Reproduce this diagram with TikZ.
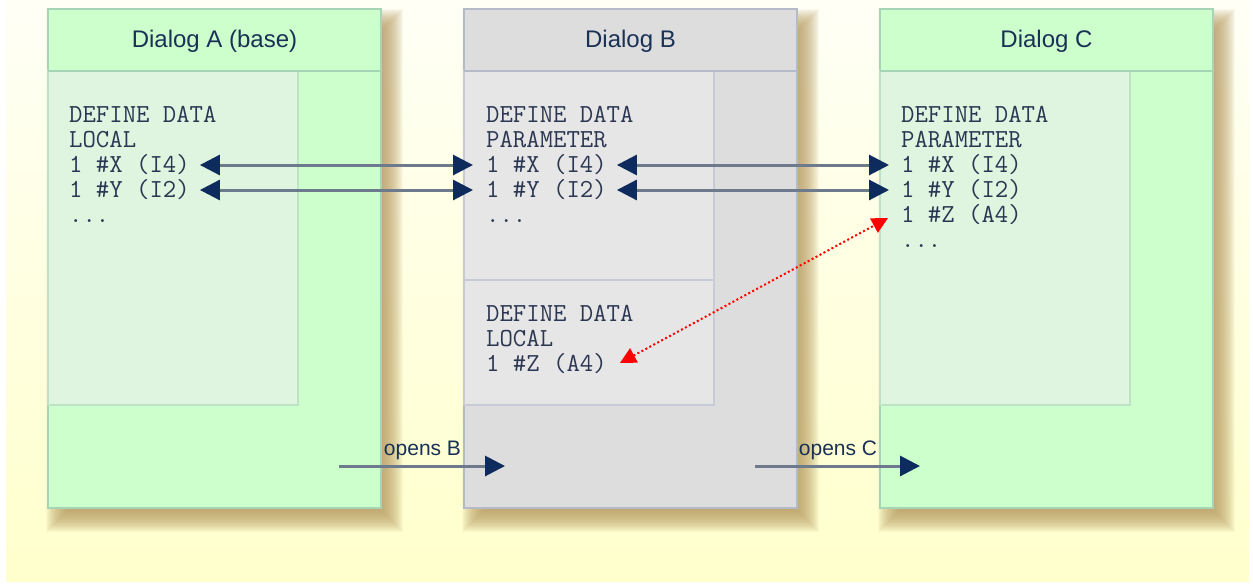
\documentclass[tikz,border=0pt]{standalone}
\usepackage{fontspec}
\setmainfont{Liberation Sans}
\usetikzlibrary{arrows.meta}
\definecolor{bgtop}{HTML}{FFFFF6}
\definecolor{bgbot}{HTML}{FFFFCC}
\definecolor{greenfill}{HTML}{CCFFCC}
\definecolor{greenpanel}{HTML}{DFF5DF}
\definecolor{greenborder}{HTML}{A6D4B4}
\definecolor{greenpanelborder}{HTML}{BCE4C4}
\definecolor{grayfill}{HTML}{DDDDDD}
\definecolor{graypanel}{HTML}{E6E6E6}
\definecolor{grayborder}{HTML}{B4BAC8}
\definecolor{graypanelborder}{HTML}{C6CBD6}
\definecolor{navy}{HTML}{0D2B5C}
\definecolor{titlecol}{HTML}{1A3156}
\definecolor{codecol}{HTML}{2B3652}
\definecolor{linecol}{HTML}{6D7A8E}
\definecolor{shadowcol}{HTML}{B89A60}
\newcommand\myshadow[4]{%
  \foreach \e in {-12,...,12}{%
    \fill[shadowcol,opacity=0.065] (#1+10-\e,#2+12-\e) rectangle (#3+10+\e,#4+12+\e);}}
\tikzset{
  greenbox/.style={draw=greenborder,fill=greenfill,line width=1.2pt,anchor=north west,inner sep=0,outer sep=0},
  greenpan/.style={draw=greenpanelborder,fill=greenpanel,line width=1.2pt,anchor=north west,inner sep=0,outer sep=0},
  graybox/.style={draw=grayborder,fill=grayfill,line width=1.2pt,anchor=north west,inner sep=0,outer sep=0},
  graypan/.style={draw=graypanelborder,fill=graypanel,line width=1.2pt,anchor=north west,inner sep=0,outer sep=0},
  title/.style={font=\fontsize{24}{28}\selectfont,text=titlecol,anchor=base,inner sep=0},
  code/.style={font=\ttfamily\fontsize{26}{25}\selectfont,text=codecol,anchor=base west,inner sep=0},
  opens/.style={font=\fontsize{21}{24}\selectfont,text=titlecol,anchor=base,inner sep=0},
  bitip/.style={{Triangle[length=20pt,width=20pt,color=navy]}-{Triangle[length=20pt,width=20pt,color=navy]},draw=linecol,line width=3pt},
  onetip/.style={-{Triangle[length=20pt,width=20pt,color=navy]},draw=linecol,line width=3pt},
  redlink/.style={{Triangle[length=16pt,width=16pt,color=red]}-{Triangle[length=16pt,width=16pt,color=red]},draw=red,line width=2pt,dash pattern=on 2pt off 2.5pt}
}
\begin{document}
\begin{tikzpicture}[x=1pt,y=-1pt]
\useasboundingbox (0,0) rectangle (1253,586);
\fill[white] (0,0) rectangle (1253,586);
\shade[top color=bgtop,bottom color=bgbot] (6,0) rectangle (1249,581);
% shadows
\myshadow{48}{9}{381}{508}
\myshadow{464}{9}{797}{508}
\myshadow{880}{9}{1213}{508}
% boxes
\node[greenbox,minimum width=333pt,minimum height=499pt] (A) at (48,9) {};
\node[greenpan,minimum width=250pt,minimum height=334pt] (Ap) at (48,71) {};
\draw[greenborder,line width=1.2pt] (48,71) -- (381,71);
\node[graybox,minimum width=333pt,minimum height=499pt] (B) at (464,9) {};
\node[graypan,minimum width=250pt,minimum height=209pt] (Bp1) at (464,71) {};
\node[graypan,minimum width=250pt,minimum height=125pt] (Bp2) at (464,280) {};
\draw[grayborder,line width=1.2pt] (464,71) -- (797,71);
\node[greenbox,minimum width=333pt,minimum height=499pt] (C) at (880,9) {};
\node[greenpan,minimum width=250pt,minimum height=334pt] (Cp) at (880,71) {};
\draw[greenborder,line width=1.2pt] (880,71) -- (1213,71);
% titles
\node[title] (tA) at (214.5,48) {Dialog A (base)};
\node[title] (tB) at (630.5,48) {Dialog B};
\node[title] (tC) at (1046.5,48) {Dialog C};
% code A
\node[code] (a1) at (69,122) {DEFINE DATA};
\node[code] (a2) at (69,147) {LOCAL};
\node[code] (ax) at (69,172) {1 \#X (I4)};
\node[code] (ay) at (69,197) {1 \#Y (I2)};
\node[code] (a5) at (69,222) {...};
% code B
\node[code] (b1) at (486,122) {DEFINE DATA};
\node[code] (b2) at (486,147) {PARAMETER};
\node[code] (bx) at (486,172) {1 \#X (I4)};
\node[code] (by) at (486,197) {1 \#Y (I2)};
\node[code] (b5) at (486,222) {...};
\node[code] (b6) at (486,321) {DEFINE DATA};
\node[code] (b7) at (486,346) {LOCAL};
\node[code] (bz) at (486,371) {1 \#Z (A4)};
% code C
\node[code] (c1) at (901,122) {DEFINE DATA};
\node[code] (c2) at (901,147) {PARAMETER};
\node[code] (cx) at (901,172) {1 \#X (I4)};
\node[code] (cy) at (901,197) {1 \#Y (I2)};
\node[code] (cz) at (901,222) {1 \#Z (A4)};
\node[code] (c6) at (901,247) {...};
% arrows
\draw[bitip] ([xshift=10pt,yshift=7pt]ax.base east) -- ([xshift=-13pt,yshift=7pt]bx.base west);
\draw[bitip] ([xshift=10pt,yshift=7pt]ay.base east) -- ([xshift=-13pt,yshift=7pt]by.base west);
\draw[bitip] ([xshift=10pt,yshift=7pt]bx.base east) -- ([xshift=-12pt,yshift=7pt]cx.base west);
\draw[bitip] ([xshift=10pt,yshift=7pt]by.base east) -- ([xshift=-12pt,yshift=7pt]cy.base west);
\draw[redlink] ([xshift=13pt,yshift=8pt]bz.base east) -- ([xshift=-13pt,yshift=4pt]cz.base west);
% opens arrows
\coordinate (oBs) at (339,466);
\coordinate (oBe) at (505,466);
\coordinate (oCs) at (755,466);
\coordinate (oCe) at (920,466);
\draw[onetip] (oBs) -- (oBe);
\draw[onetip] (oCs) -- (oCe);
\node[opens] (lB) at (422.5,455) {opens B};
\node[opens] (lC) at (838,455) {opens C};
\end{tikzpicture}
\end{document}
